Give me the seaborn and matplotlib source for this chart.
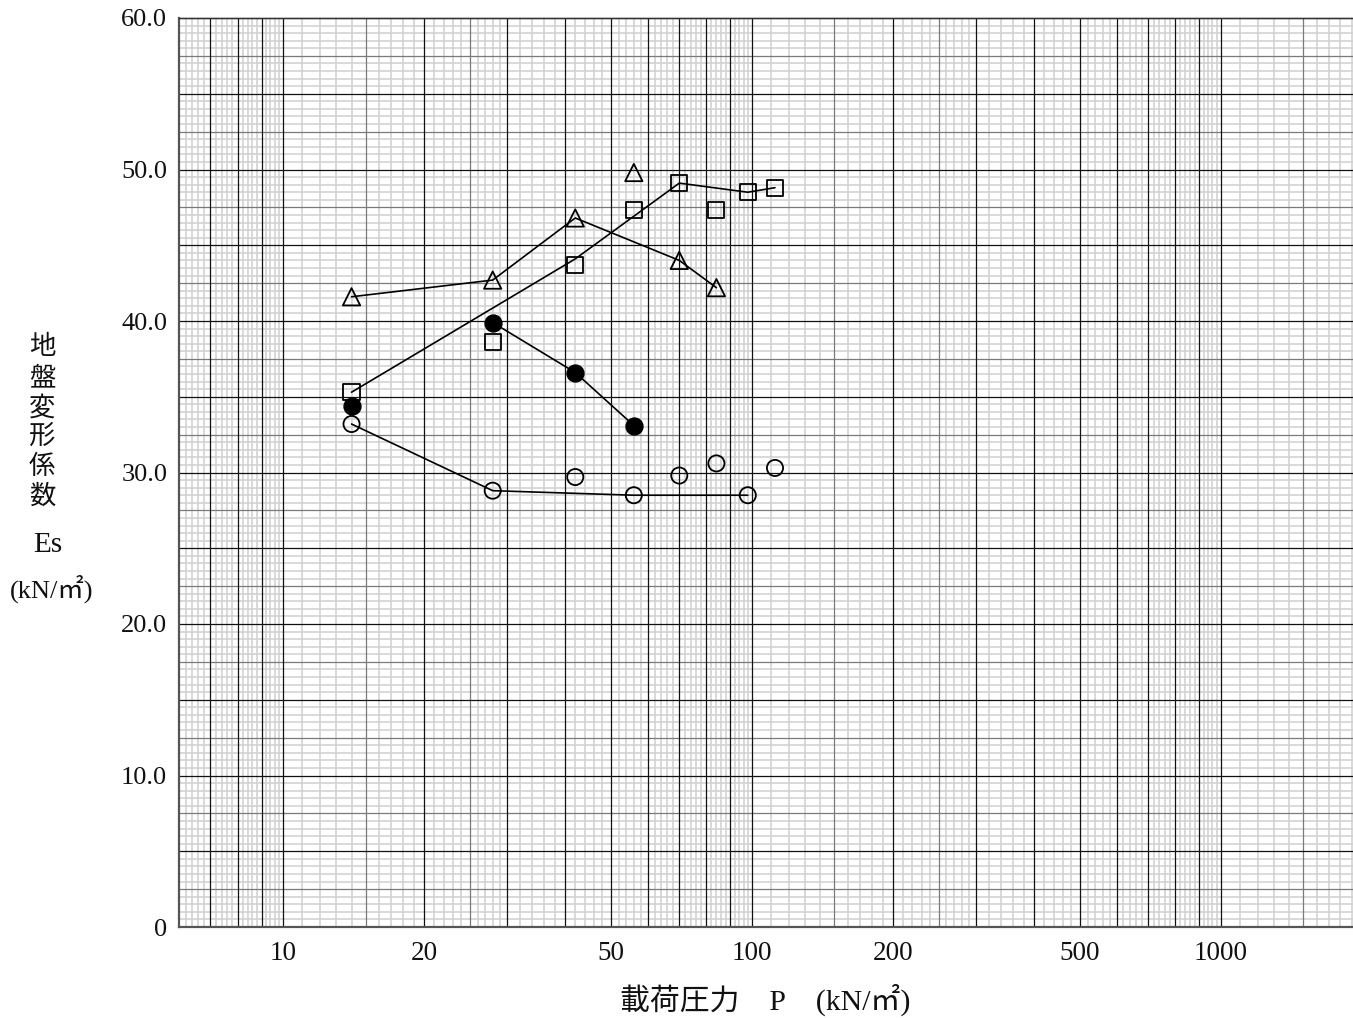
import numpy as np
import pandas as pd
import matplotlib
matplotlib.use("Agg")
import matplotlib.pyplot as plt
from matplotlib.ticker import NullLocator
import seaborn as sns

# ---------------- data ----------------
# 載荷圧力 P (kN/m2)
tri_p = [14, 28, 42, 56, 70, 84]
tri_es = [41.6, 42.7, 46.8, 49.8, 44.0, 42.2]
tri_line_p = [14, 28, 42, 70, 84]
tri_line_es = [41.6, 42.7, 46.8, 44.0, 42.2]

sq_p = [14, 28, 42, 56, 70, 84, 98, 112]
sq_es = [35.3, 38.6, 43.7, 47.3, 49.1, 47.3, 48.5, 48.8]
sq_line_p = [14, 42, 70, 98, 112]
sq_line_es = [35.3, 44.1, 49.1, 48.5, 48.8]

fc_p = [14, 28, 42, 56]
fc_es = [34.4, 39.9, 36.6, 33.1]
fc_line_p = [28, 42, 56]
fc_line_es = [39.9, 36.6, 33.1]

oc_p = [14, 28, 42, 56, 70, 84, 98, 112]
oc_es = [33.2, 28.8, 29.7, 28.5, 29.8, 30.6, 28.5, 30.3]
oc_line_p = [14, 28, 56, 98]
oc_line_es = [33.2, 28.8, 28.5, 28.5]

x_tick_vals = [10, 20, 50, 100, 200, 500, 1000]
x_tick_labels = ["10", "20", "50", "100", "200", "500", "1000"]
y_tick_vals = [0, 10, 20, 30, 40, 50, 60]
y_tick_labels = ["0", "10.0", "20.0", "30.0", "40.0", "50.0", "60.0"]

ylabel_chars = "地盤変形係数"
ylabel_sym = "Es"
unit_label = "(kN/㎡)"
xlabel = "載荷圧力　P　(kN/㎡)"

# ---------------- style ----------------
sns.set_style("white")
plt.rcParams["font.family"] = ["Liberation Serif", "Noto Sans CJK JP", "DejaVu Sans"]

W, H = 1353, 1018
fig = plt.figure(figsize=(W / 100, H / 100), dpi=100)
ax_l, ax_b, ax_t = 179, 927, 18
ax = fig.add_axes([ax_l / W, 1 - ax_b / H, 1 - ax_l / W, (ax_b - ax_t) / H])

ax.set_xscale("log")
ax.set_xlim(6, 1914)
ax.set_ylim(0, 60)

# ---------------- log-paper grid ----------------
decades = [1, 10, 100, 1000]
lo, hi = 6, 1914
major_x, mid_x, minor_x = [], [], []
for d in decades:
    for m in range(1, 10):
        major_x.append(m * d)
    for m in (1.5, 2.5):
        mid_x.append(m * d)
    fine = list(np.round(np.arange(1.1, 3.0, 0.1), 2)) + list(np.round(np.arange(3.2, 10.0, 0.2), 2))
    for m in fine:
        if abs(m - round(m)) < 1e-6 or m in (1.5, 2.5):
            continue
        minor_x.append(m * d)
major_x = [v for v in major_x if lo < v < hi]
mid_x = [v for v in mid_x if lo < v < hi]
minor_x = [v for v in minor_x if lo < v < hi]

minor_y = [v for v in np.arange(0.5, 60, 0.5) if abs(v / 2.5 - round(v / 2.5)) > 1e-6]
mid_y = [v for v in np.arange(2.5, 60, 5.0)]
major_y = [v for v in np.arange(5, 61, 5.0)]

xt = ax.get_xaxis_transform()
yt = ax.get_yaxis_transform()
ax.vlines(minor_x, 0, 1, transform=xt, colors="#d0d0d0", lw=1.1, zorder=0.5)
ax.hlines(minor_y, 0, 1, transform=yt, colors="#d0d0d0", lw=1.1, zorder=0.5)
ax.vlines(mid_x, 0, 1, transform=xt, colors="#7a7a7a", lw=0.9, zorder=0.6)
ax.hlines(mid_y, 0, 1, transform=yt, colors="#7a7a7a", lw=0.9, zorder=0.6)
ax.vlines(major_x, 0, 1, transform=xt, colors="#111111", lw=0.9, zorder=0.7)
ax.hlines(major_y, 0, 1, transform=yt, colors="#111111", lw=0.9, zorder=0.7, clip_on=False)

# ---------------- data lines ----------------
line_kw = dict(color="black", lw=1.2, estimator=None, sort=False, ax=ax, zorder=2, legend=False)
sns.lineplot(x=tri_line_p, y=tri_line_es, **line_kw)
sns.lineplot(x=sq_line_p, y=sq_line_es, **line_kw)
sns.lineplot(x=fc_line_p, y=fc_line_es, **line_kw)
sns.lineplot(x=oc_line_p, y=oc_line_es, **line_kw)

# ---------------- markers ----------------
mk = 135
sns.scatterplot(x=tri_p, y=tri_es, marker="^", s=mk * 1.15, facecolor="none",
                edgecolor="black", linewidth=1.3, ax=ax, zorder=3, legend=False)
sns.scatterplot(x=sq_p, y=sq_es, marker="s", s=mk, facecolor="none",
                edgecolor="black", linewidth=1.3, ax=ax, zorder=3, legend=False)
sns.scatterplot(x=oc_p, y=oc_es, marker="o", s=mk, facecolor="none",
                edgecolor="black", linewidth=1.3, ax=ax, zorder=3, legend=False)
sns.scatterplot(x=fc_p, y=fc_es, marker="o", s=mk * 1.1, color="black",
                edgecolor="black", linewidth=1.0, ax=ax, zorder=3, legend=False)

# ---------------- axes / ticks ----------------
ax.set_xticks(x_tick_vals)
ax.set_xticklabels(x_tick_labels, fontsize=19.5)
ax.xaxis.set_minor_locator(NullLocator())
ax.set_yticks(y_tick_vals)
ax.set_yticklabels(y_tick_labels, fontsize=19)
ax.tick_params(axis="x", length=0, pad=10, colors="#111111")
ax.tick_params(axis="y", length=7.5, width=1.0, color="#555555", pad=1, labelcolor="#111111")
ax.set_xlabel("")
ax.set_ylabel("")

ax.spines["right"].set_visible(False)
ax.spines["top"].set_color("#333333")
ax.spines["top"].set_linewidth(1.0)
for side in ("left", "bottom"):
    ax.spines[side].set_color("#555555")
    ax.spines[side].set_linewidth(1.6)

# ---------------- labels ----------------
cy = [347, 378, 408, 437, 467, 497]
for ch, yy in zip(ylabel_chars, cy):
    fig.text(42 / W, 1 - yy / H, ch, ha="center", va="center", fontsize=19, color="#111111")
fig.text(48 / W, 1 - 545 / H, ylabel_sym, ha="center", va="center", fontsize=21, color="#111111")
fig.text(52 / W, 1 - 589 / H, unit_label, ha="center", va="center", fontsize=19, color="#111111")
fig.text(765 / W, 1 - 1000 / H, xlabel, ha="center", va="center", fontsize=21.5, color="#111111")

fig.savefig("out.png", dpi=100)
